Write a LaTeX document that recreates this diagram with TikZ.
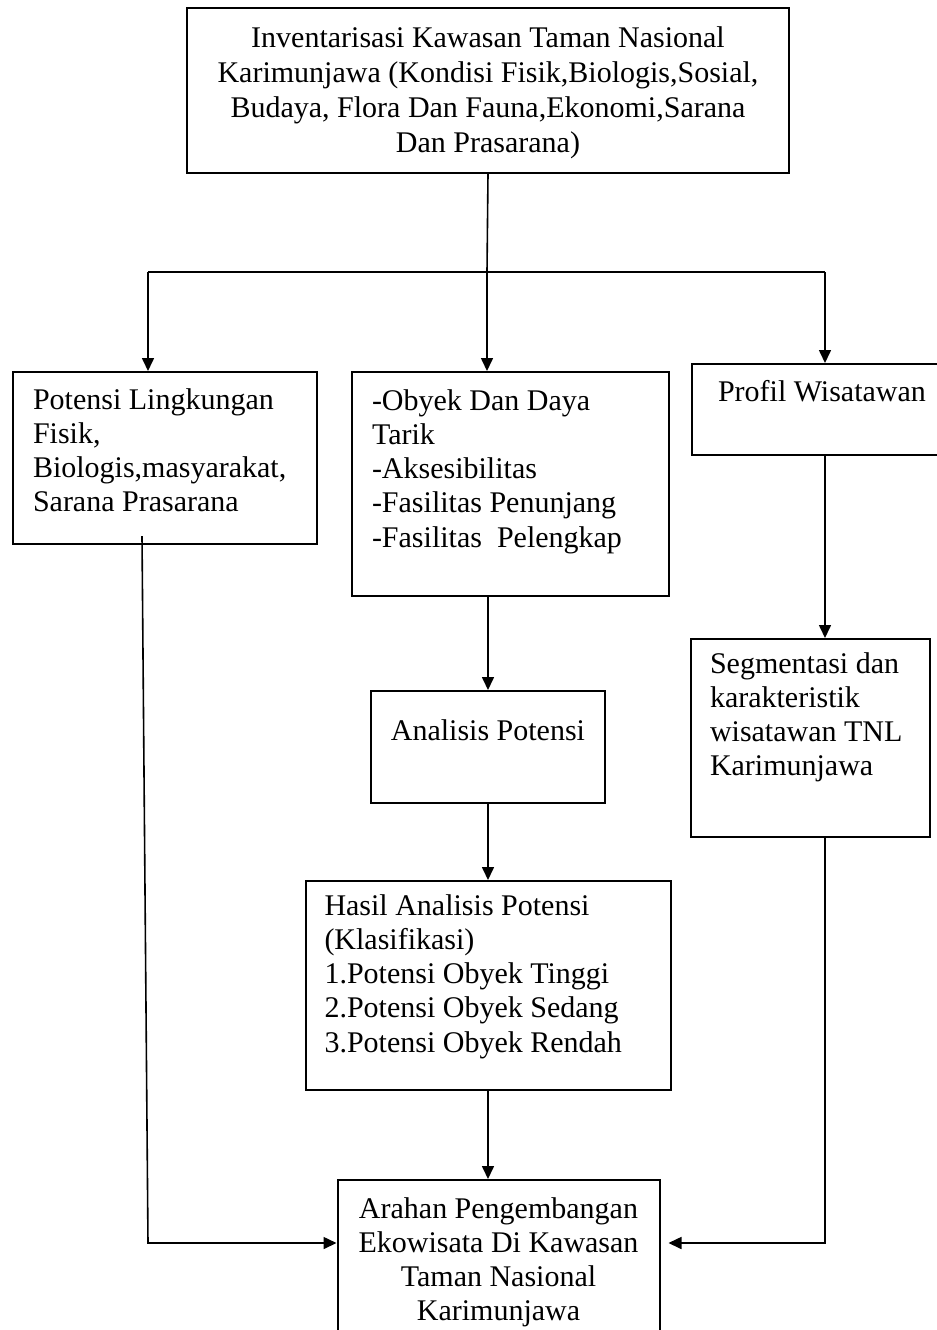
\documentclass[tikz,border=0pt]{standalone}
\usepackage{fontspec}
\setmainfont{Liberation Serif}
\usetikzlibrary{positioning,arrows.meta}

\begin{document}
\begin{tikzpicture}
    % Define styles
    \tikzstyle{box}=[rectangle, draw=black, line width=1pt, anchor=north west, inner xsep=10pt, inner ysep=0pt, align=flush left, font=\fontsize{15pt}{17.15pt}\selectfont]
    \tikzstyle{arrow}=[-{Triangle[length=6.5pt,width=6pt]}, line width=0.8pt]
    \tikzstyle{line}=[line width=0.8pt]

    \useasboundingbox (0,0) rectangle (468.5pt,-665pt);

    % Inventory
    \node[box, align=flush center, font=\fontsize{15pt}{17.65pt}\selectfont, text width=281pt, text height=19.5pt, text depth=63pt] (invent) at (93pt,-3.5pt) {Inventarisasi Kawasan Taman Nasional\\Karimunjawa (Kondisi Fisik,Biologis,Sosial,\\Budaya, Flora Dan Fauna,Ekonomi,Sarana\\Dan Prasarana)};

    % Second row
    \node[box, text width=132pt, text height=18.5pt, text depth=67.5pt] (lingkungan) at (6pt,-185.5pt) {Potensi Lingkungan\\Fisik,\\Biologis,masyarakat,\\Sarana Prasarana};
    \node[box, text width=138.5pt, text height=19pt, text depth=93pt] (obyek) at (175.5pt,-185.5pt) {-Obyek Dan Daya\\Tarik\\-Aksesibilitas\\-Fasilitas Penunjang\\-Fasilitas~ Pelengkap};
    \node[box, inner xsep=13pt, text width=124pt, text height=18.5pt, text depth=27pt] (profil) at (345.5pt,-181.5pt) {Profil Wisatawan};

    % Analysis chain
    \node[box, align=flush center, inner xsep=5pt, text width=107pt, text height=24.5pt, text depth=31.5pt] (analisis) [below=46.5pt of obyek, xshift=-11.25pt] {Analisis Potensi};
    \node[box, inner xsep=9.5pt, text width=163.5pt, text height=17pt, text depth=87.5pt] (hasil) [below=38pt of analisis] {Hasil Analisis Potensi\\(Klasifikasi)\\1.Potensi Obyek Tinggi\\2.Potensi Obyek Sedang\\3.Potensi Obyek Rendah};
    \node[box, align=flush center, inner xsep=8pt, text width=145pt, text height=19pt, text depth=70pt] (arahan) [below=44pt of hasil, xshift=5.25pt] {Arahan Pengembangan\\Ekowisata Di Kawasan\\Taman Nasional\\Karimunjawa};

    % Tourists
    \node[box, inner xsep=9.5pt, text width=100.5pt, text height=17pt, text depth=82pt] (segmentasi) [below=91pt of profil.south west, anchor=north west, xshift=-0.5pt] {Segmentasi dan\\karakteristik\\wisatawan TNL\\Karimunjawa};

    % Junctions
    \coordinate (split) at (243.5pt,-136pt);
    \coordinate (lsplit) at (74pt,-136pt);
    \coordinate (rsplit) at (412.5pt,-136pt);
    \coordinate (lout) at (71pt,-268pt);
    \coordinate (lcorner) at (74pt,-621.5pt);
    \coordinate (rout) at (412.5pt,-418.5pt);
    \coordinate (rcorner) at (412.5pt,-621.5pt);

    % Connections
    \draw[line] (invent.south) -- (split);
    \draw[line] (lsplit) -- (rsplit);
    \draw[arrow] (lsplit) -- (lsplit |- lingkungan.north);
    \draw[arrow] (split) -- (split |- obyek.north);
    \draw[arrow] (rsplit) -- (rsplit |- profil.north);
    \draw[arrow] (analisis.north |- obyek.south) -- (analisis.north);
    \draw[arrow] (analisis.south) -- (analisis.south |- hasil.north);
    \draw[arrow] (hasil.south) -- (hasil.south |- arahan.north);
    \draw[arrow] (rsplit |- profil.south) -- (rsplit |- segmentasi.north);
    \draw[arrow] (lout) -- (lcorner) -- (lcorner -| arahan.west);
    \draw[arrow, shorten >=4pt] (rout) -- (rcorner) -- (rcorner -| arahan.east);
\end{tikzpicture}
\end{document}
